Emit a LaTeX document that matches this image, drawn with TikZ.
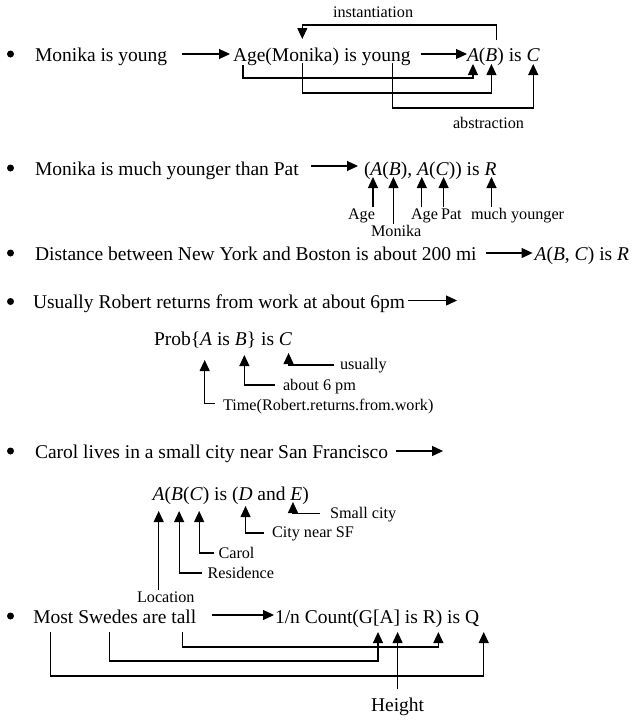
\documentclass[tikz,border=0pt]{standalone}
\usepackage{fontspec}
\setmainfont{Liberation Serif}
\usetikzlibrary{arrows.meta,calc}
\newcommand{\mainf}{\fontsize{19.5}{23}\selectfont}
\newcommand{\smallf}{\fontsize{16.2}{19}\selectfont}
\newcommand{\tsp}{~\null}
\begin{document}
\begin{tikzpicture}[x=1pt,y=-1pt,
 t/.style={inner sep=0pt,outer sep=0pt,anchor=base west,font=\mainf},
 s/.style={inner sep=0pt,outer sep=0pt,anchor=base west,font=\smallf},
 bul/.style={circle,fill,inner sep=0pt,minimum size=7pt},
 arr/.style={line width=1.1pt,-{Triangle[length=11pt,width=10pt]}}]
\useasboundingbox (0,0) rectangle (641,720);

% ---------- Row 1
\node[bul] (b1) at (10.5,54) {};
\node[t] (r1) at (35,61) {Monika is young};
\node[t] (r1a) at (233,61) {Age(};
\node[t] (r1m) at (r1a.base east) {Monika};
\node[t] (r1i) at (r1m.base east) {)~is\tsp};
\node[t] (r1y) at (r1i.base east) {young};
\node[t] (f1a) at (467,61) {\textit{A}};
\node[t] (f1p) at (f1a.base east) {(};
\node[t] (f1b) at (f1p.base east) {\textit{B}};
\node[t] (f1i) at (f1b.base east) {)~is\tsp};
\node[t] (f1c) at (f1i.base east) {\textit{C}};
\draw[arr] ($(r1.base east)+(15,-7)$) -- ($(r1a.base west)+(-3,-7)$);
\draw[arr] ($(r1y.base east)+(10,-7)$) -- ($(f1a.base west)+(0,-7)$);
\draw[arr] ($(r1a.base west)+(10,4)$) |- ($(f1a.base)+(0,17)$) -- ($(f1a.base)+(0,3)$);
\draw[arr] ($(r1m.base)+(0,2)$) |- ($(f1b.base)+(0,32)$) -- ($(f1b.base)+(0,3)$);
\draw[arr] ($(r1y.base)+(6,2)$) |- ($(f1c.base)+(0,47)$) -- ($(f1c.base)+(0,3)$);
\draw[arr] ($(f1b.base)+(5,-21)$) -- ++(0,-15) -| ($(r1m.base)+(0,-22)$);
\node[s] (inst) at (333,17) {instantiation};
\node[s] (abst) at (453,128) {abstraction};

% ---------- Row 2
\node[bul] (b2) at (10.5,168) {};
\node[t] (r2) at (35,175) {Monika is much younger than Pat};
\node[t] (f2o) at (364,175) {(};
\node[t] (f2a) at (f2o.base east) {\textit{A}};
\node[t] (f2p) at (f2a.base east) {(};
\node[t] (f2b) at (f2p.base east) {\textit{B}};
\node[t] (f2q) at (f2b.base east) {),\tsp};
\node[t] (f2c) at (f2q.base east) {\textit{A}};
\node[t] (f2r) at (f2c.base east) {(};
\node[t] (f2d) at (f2r.base east) {\textit{C}};
\node[t] (f2s) at (f2d.base east) {))~is\tsp};
\node[t] (f2e) at (f2s.base east) {\textit{R}};
\draw[arr] ($(r2.base east)+(12,-9)$) -- ($(f2o.base west)+(-6,-9)$);
\node[s] (l2a) at (348,219) {Age};
\node[s] (l2m) at (371,236) {Monika};
\node[s] (l2c) at (411,219) {Age};
\node[s] (l2d) at (441,219) {Pat};
\node[s] (l2e) at (471,219) {much younger};
\draw[arr] ($(f2a.base |- l2a.north)+(-3.5,-1)$) -- ($(f2a.base)+(-3.5,2)$);
\draw[arr] ($(f2b.base |- l2m.north)+(-1.5,-1)$) -- ($(f2b.base)+(-1.5,2)$);
\draw[arr] ($(f2c.base |- l2c.north)+(-1.3,-1)$) -- ($(f2c.base)+(-1.3,2)$);
\draw[arr] ($(f2d.base |- l2d.north)+(1.4,-1)$) -- ($(f2d.base)+(1.4,2)$);
\draw[arr] ($(f2e.base |- l2e.north)+(1,-1)$) -- ($(f2e.base)+(1,2)$);

% ---------- Row 3
\node[bul] (b3) at (10.5,253) {};
\node[t] (r3) at (35,260) {Distance between New York and Boston is about 200 mi};
\node[t] (f3) at ($(r3.base east)+(58,0)$) {\textit{A}(\textit{B},~\textit{C})~is~\textit{R}};
\draw[arr] ($(r3.base east)+(9,-7)$) -- ($(f3.base west)+(-2,-7)$);

% ---------- Row 4
\node[bul] (b4) at (10.5,301.5) {};
\node[t] (r4) at (33,308.5) {Usually Robert returns from work at about 6pm};
\coordinate (r4e) at ($(r4.base east)+(52,-8)$);
\draw[arr] ($(r4.base east)+(3,-8)$) -- (r4e);
\node[t] (f4p) at (154,345) {Prob\{};
\node[t] (f4a) at (f4p.base east) {\textit{A}};
\node[t] (f4i) at (f4a.base east) {~is\tsp};
\node[t] (f4b) at (f4i.base east) {\textit{B}};
\node[t] (f4j) at (f4b.base east) {\}~is\tsp};
\node[t] (f4c) at (f4j.base east) {\textit{C}};
\node[s] (l4c) at (340,369) {usually};
\node[s] (l4b) at (283,390) {about 6 pm};
\node[s] (l4a) at (223,410.5) {Time(Robert.returns.from.work)};
\draw[arr] ($(l4c.base west)+(-6,-4)$) -| ($(f4c.base)+(3,8)$);
\draw[arr] ($(l4b.base west)+(-8,-5)$) -| ($(f4b.base)+(3.5,10)$);
\draw[arr] ($(l4a.base west)+(-8,-7)$) -| ($(f4a.base)+(-1.5,15)$);

% ---------- Row 5
\node[bul] (b5) at (10.5,451) {};
\node[t] (r5) at (35,458) {Carol lives in a small city near San Francisco};
\coordinate (r5e) at ($(r5.base east)+(55,-7)$);
\draw[arr] ($(r5.base east)+(8,-7)$) -- (r5e);
\node[t] (f5a) at (152.7,500) {\textit{A}};
\node[t] (f5p) at (f5a.base east) {(};
\node[t] (f5b) at (f5p.base east) {\textit{B}};
\node[t] (f5q) at (f5b.base east) {(};
\node[t] (f5c) at (f5q.base east) {\textit{C}};
\node[t] (f5r) at (f5c.base east) {)~is~(};
\node[t] (f5d) at (f5r.base east) {\textit{D}};
\node[t] (f5s) at (f5d.base east) {~and\tsp};
\node[t] (f5e) at (f5s.base east) {\textit{E}};
\node[t] (f5t) at (f5e.base east) {)};
\node[s] (l5e) at (330,518) {Small city};
\node[s] (l5d) at (272,537.5) {City near SF};
\node[s] (l5c) at (218.5,558) {Carol};
\node[s] (l5b) at (207.5,578) {Residence};
\node[s] (l5a) at (137,602) {Location};
\draw[arr] ($(l5e.base west)+(-10,-4.5)$) -| ($(f5e.base)+(-3.5,2)$);
\draw[arr] ($(l5d.base west)+(-8,-4.5)$) -| ($(f5d.base)+(0,6)$);
\draw[arr] ($(l5c.base west)+(-5,-5)$) -| ($(f5c.base)+(3,11)$);
\draw[arr] ($(l5b.base west)+(-6,-5)$) -| ($(f5b.base)+(2,11)$);
\draw[arr] ($(f5a.base |- l5a.north)+(0,-1)$) -- ($(f5a.base)+(0,11)$);

% ---------- Row 6
\node[bul] (b6) at (10.5,616) {};
\node[t] (r6m) at (33.3,623) {Most};
\node[t] (r6x) at (r6m.base east) {\tsp};
\node[t] (r6s) at (r6x.base east) {Swedes};
\node[t] (r6y) at (r6s.base east) {~are\tsp};
\node[t] (r6t) at (r6y.base east) {tall};
\node[t] (f6n) at (275,623) {1/n~Count(};
\node[t] (f6g) at (f6n.base east) {G};
\node[t] (f6o) at (f6g.base east) {[};
\node[t] (f6a) at (f6o.base east) {A};
\node[t] (f6p) at (f6a.base east) {]~is\tsp};
\node[t] (f6r) at (f6p.base east) {R};
\node[t] (f6q) at (f6r.base east) {)~is\tsp};
\node[t] (f6z) at (f6q.base east) {Q};
\draw[arr] ($(r6t.base east)+(16,-8)$) -- ($(f6n.base west)+(-1,-8)$);
\draw[arr] ($(r6t.base)+(-1,9)$) |- ($(f6r.base)+(9,24)$) -- ($(f6r.base)+(9,9)$);
\draw[arr] ($(r6s.base)+(1,9)$) |- ($(f6g.base)+(12,38)$) -- ($(f6g.base)+(12,9)$);
\draw[arr] ($(r6m.base)+(-3,9)$) |- ($(f6z.base east)+(4.5,53)$) -- ($(f6z.base east)+(4.5,9)$);
\node[t,anchor=base] (l6) at ($(f6a.base)+(11,88.7)$) {Height};
\draw[arr] ($(l6.north)+(0,-9)$) -- ($(f6a.base)+(11,9)$);
\end{tikzpicture}
\end{document}
